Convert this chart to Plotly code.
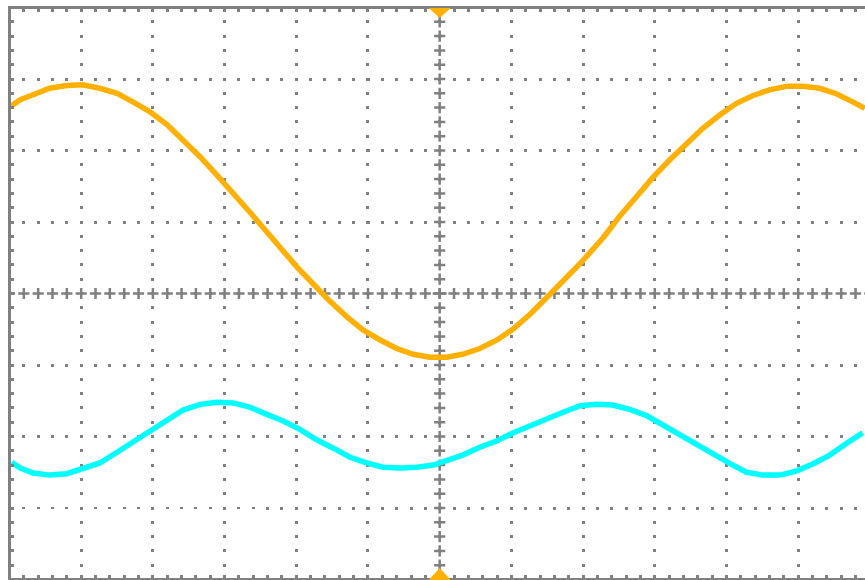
import numpy as np
import plotly.graph_objects as go

# Horizontal position in divisions (0 = trigger point), vertical in divisions
t_orange = [-5.98, -5.85, -5.67, -5.44, -5.20, -4.98, -4.74, -4.50, -4.28, -4.04,
            -3.80, -3.58, -3.34, -3.11, -2.88, -2.65, -2.41, -2.19, -1.99, -1.77,
            -1.53, -1.29, -1.07, -0.83, -0.60, -0.37, -0.14, 0.10, 0.32, 0.56,
            0.80, 1.02, 1.26, 1.49, 1.72, 1.96, 2.28, 2.51, 2.75, 2.97,
            3.21, 3.45, 3.67, 3.91, 4.14, 4.37, 4.61, 4.85, 5.07, 5.30,
            5.54, 5.76, 5.93]
v_orange = [2.62, 2.71, 2.78, 2.87, 2.91, 2.92, 2.87, 2.80, 2.68, 2.54,
            2.36, 2.15, 1.91, 1.66, 1.41, 1.14, 0.86, 0.60, 0.37, 0.14,
            -0.11, -0.33, -0.51, -0.65, -0.77, -0.85, -0.89, -0.89, -0.85, -0.77,
            -0.65, -0.50, -0.29, -0.06, 0.17, 0.42, 0.78, 1.08, 1.36, 1.62,
            1.87, 2.10, 2.31, 2.50, 2.66, 2.77, 2.85, 2.90, 2.90, 2.87,
            2.79, 2.68, 2.59]

t_cyan = [-5.97, -5.85, -5.67, -5.44, -5.20, -4.98, -4.74, -4.50, -4.28, -4.04,
          -3.80, -3.58, -3.34, -3.11, -2.88, -2.65, -2.41, -2.19, -1.95, -1.71,
          -1.49, -1.25, -1.02, -0.79, -0.55, -0.32, -0.09, 0.10, 0.32, 0.56,
          0.80, 1.02, 1.26, 1.49, 1.72, 1.96, 2.19, 2.41, 2.65, 2.89,
          3.11, 3.35, 3.59, 3.81, 4.05, 4.28, 4.51, 4.75, 4.98, 5.21,
          5.44, 5.68, 5.90]
v_cyan = [-2.36, -2.44, -2.51, -2.54, -2.52, -2.45, -2.37, -2.22, -2.08, -1.91,
          -1.77, -1.63, -1.55, -1.52, -1.53, -1.59, -1.69, -1.78, -1.90, -2.05,
          -2.16, -2.29, -2.37, -2.43, -2.44, -2.43, -2.40, -2.33, -2.26, -2.15,
          -2.06, -1.95, -1.85, -1.74, -1.66, -1.57, -1.55, -1.56, -1.62, -1.71,
          -1.84, -1.98, -2.12, -2.26, -2.38, -2.50, -2.54, -2.54, -2.48, -2.38,
          -2.26, -2.09, -1.95]

ORANGE = "#FFB000"
CYAN = "#00FFFF"
GRID = "#808080"

fig = go.Figure()

# crosses along the centre axes at every minor division
minor = np.round(np.arange(-30, 31) * 0.2, 2)
cx = np.concatenate([minor, np.zeros_like(minor)])
cy = np.concatenate([np.zeros_like(minor), minor])
fig.add_trace(go.Scatter(
    x=cx, y=cy, mode="markers",
    marker=dict(symbol="cross-thin", size=8, line=dict(width=2.5, color=GRID)),
    hoverinfo="skip", showlegend=False))

fig.add_trace(go.Scatter(x=t_orange, y=v_orange, mode="lines",
                         line=dict(color=ORANGE, width=5.5),
                         hoverinfo="skip", showlegend=False))
fig.add_trace(go.Scatter(x=t_cyan, y=v_cyan, mode="lines",
                         line=dict(color=CYAN, width=5.5),
                         hoverinfo="skip", showlegend=False))

# longer bar at the centre
fig.add_shape(type="line", xref="x", yref="y", xsizemode="pixel", xanchor=0,
              x0=-7, x1=7, y0=0, y1=0, line=dict(color=GRID, width=2.5))

# trigger markers (top and bottom)
fig.add_shape(type="path", xref="x", yref="paper", xsizemode="pixel", ysizemode="pixel",
              xanchor=0, yanchor=1, path="M-11,1 L11,1 L0,-9 Z",
              fillcolor=ORANGE, line=dict(width=0), layer="above")
fig.add_shape(type="path", xref="x", yref="paper", xsizemode="pixel", ysizemode="pixel",
              xanchor=0, yanchor=0, path="M-11,-2 L11,-2 L0,10 Z",
              fillcolor=ORANGE, line=dict(width=0), layer="above")

common = dict(showline=True, linewidth=3, linecolor=GRID,
              ticks="inside", ticklen=3, tickwidth=3, tickcolor=GRID,
              tickmode="linear", tick0=0, dtick=1, showticklabels=False,
              showgrid=True, gridcolor=GRID, gridwidth=3, zeroline=False,
              fixedrange=True,
              minor=dict(ticks="inside", ticklen=3, tickwidth=3, tickcolor=GRID,
                         dtick=0.2, tick0=0, showgrid=False))

fig.update_xaxes(range=[-5.979, 5.932], griddash="0px,11.3px,3px,0px",
                 mirror="allticks", **common)
fig.update_yaxes(range=[-3.979, 3.979], griddash="0px,11.34px,3px,0px",
                 mirror=False, **common)

fig.update_layout(width=865, height=580,
                  margin=dict(l=11, r=0, t=9, b=2, pad=0),
                  paper_bgcolor="white", plot_bgcolor="white",
                  showlegend=False, hovermode=False)

fig.write_html("out.html", config={"displayModeBar": False, "staticPlot": True},
               post_script="document.body.style.margin='0px';")
